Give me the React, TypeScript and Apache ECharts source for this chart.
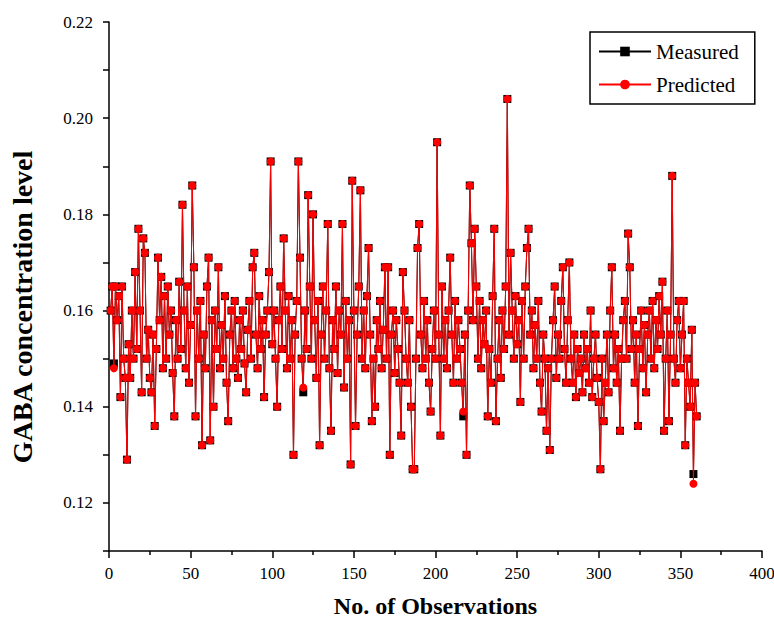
import React, { useEffect, useRef } from "react";
import * as echarts from "echarts";

const observations: number[] = Array.from({ length: 360 }, (_, i) => i + 1);

const predicted: number[] = [
  0.160, 0.165, 0.148, 0.165, 0.158, 0.163, 0.142, 0.165, 0.150, 0.146,
  0.129, 0.153, 0.146, 0.160, 0.150, 0.168, 0.152, 0.177, 0.160, 0.143,
  0.175, 0.172, 0.150, 0.156, 0.146, 0.143, 0.155, 0.136, 0.152, 0.171,
  0.158, 0.167, 0.148, 0.163, 0.150, 0.165, 0.155, 0.160, 0.147, 0.138,
  0.158, 0.150, 0.166, 0.152, 0.182, 0.160, 0.148, 0.165, 0.145, 0.157,
  0.186, 0.169, 0.138, 0.160, 0.150, 0.162, 0.132, 0.155, 0.148, 0.165,
  0.171, 0.133, 0.158, 0.140, 0.160, 0.152, 0.169, 0.148, 0.157, 0.150,
  0.163, 0.145, 0.137, 0.155, 0.160, 0.148, 0.162, 0.150, 0.146, 0.158,
  0.152, 0.160, 0.149, 0.143, 0.156, 0.162, 0.150, 0.169, 0.172, 0.155,
  0.148, 0.163, 0.152, 0.158, 0.142, 0.155, 0.160, 0.168, 0.191, 0.153,
  0.160, 0.150, 0.140, 0.158, 0.165, 0.152, 0.175, 0.160, 0.148, 0.163,
  0.150, 0.158, 0.130, 0.155, 0.162, 0.191, 0.171, 0.150, 0.144, 0.160,
  0.152, 0.184, 0.165, 0.150, 0.180, 0.158, 0.146, 0.162, 0.132, 0.155,
  0.165, 0.150, 0.160, 0.178, 0.148, 0.135, 0.158, 0.152, 0.165, 0.147,
  0.160, 0.155, 0.178, 0.144, 0.162, 0.150, 0.158, 0.128, 0.187, 0.160,
  0.136, 0.155, 0.165, 0.185, 0.150, 0.160, 0.148, 0.163, 0.173, 0.155,
  0.137, 0.150, 0.140, 0.158, 0.152, 0.162, 0.148, 0.156, 0.169, 0.150,
  0.169, 0.130, 0.155, 0.160, 0.147, 0.158, 0.152, 0.145, 0.134, 0.168,
  0.160, 0.150, 0.145, 0.158, 0.140, 0.127, 0.127, 0.150, 0.173, 0.178,
  0.155, 0.148, 0.162, 0.150, 0.158, 0.145, 0.139, 0.152, 0.160, 0.150,
  0.195, 0.155, 0.134, 0.165, 0.150, 0.158, 0.148, 0.160, 0.171, 0.155,
  0.145, 0.162, 0.150, 0.158, 0.152, 0.145, 0.139, 0.155, 0.130, 0.160,
  0.186, 0.174, 0.158, 0.177, 0.165, 0.150, 0.162, 0.148, 0.158, 0.153,
  0.160, 0.138, 0.152, 0.145, 0.163, 0.177, 0.137, 0.150, 0.158, 0.146,
  0.160, 0.152, 0.165, 0.204, 0.155, 0.172, 0.160, 0.150, 0.163, 0.153,
  0.158, 0.141, 0.162, 0.150, 0.165, 0.173, 0.177, 0.155, 0.160, 0.148,
  0.157, 0.150, 0.162, 0.145, 0.139, 0.155, 0.150, 0.135, 0.148, 0.131,
  0.150, 0.158, 0.165, 0.146, 0.155, 0.150, 0.162, 0.169, 0.152, 0.145,
  0.158, 0.170, 0.150, 0.145, 0.155, 0.142, 0.152, 0.147, 0.150, 0.143,
  0.155, 0.148, 0.152, 0.145, 0.160, 0.142, 0.150, 0.155, 0.146, 0.141,
  0.127, 0.150, 0.137, 0.145, 0.155, 0.143, 0.160, 0.169, 0.148, 0.155,
  0.145, 0.152, 0.135, 0.150, 0.158, 0.162, 0.150, 0.176, 0.169, 0.152,
  0.158, 0.145, 0.155, 0.136, 0.152, 0.160, 0.148, 0.157, 0.143, 0.155,
  0.160, 0.150, 0.162, 0.148, 0.158, 0.152, 0.163, 0.155, 0.166, 0.135,
  0.150, 0.160, 0.137, 0.155, 0.188, 0.150, 0.145, 0.158, 0.162, 0.148,
  0.155, 0.162, 0.132, 0.150, 0.145, 0.140, 0.156, 0.124, 0.145, 0.138,
];

const measured: number[] = [
  0.160, 0.165, 0.149, 0.165, 0.158, 0.163, 0.142, 0.165, 0.150, 0.146,
  0.129, 0.153, 0.146, 0.160, 0.150, 0.168, 0.152, 0.177, 0.160, 0.143,
  0.175, 0.172, 0.150, 0.156, 0.146, 0.143, 0.155, 0.136, 0.152, 0.171,
  0.158, 0.167, 0.148, 0.163, 0.150, 0.165, 0.155, 0.160, 0.147, 0.138,
  0.158, 0.150, 0.166, 0.152, 0.182, 0.160, 0.148, 0.165, 0.145, 0.157,
  0.186, 0.169, 0.138, 0.160, 0.150, 0.162, 0.132, 0.155, 0.148, 0.165,
  0.171, 0.133, 0.158, 0.140, 0.160, 0.152, 0.169, 0.148, 0.157, 0.150,
  0.163, 0.145, 0.137, 0.155, 0.160, 0.148, 0.162, 0.150, 0.146, 0.158,
  0.152, 0.160, 0.149, 0.143, 0.156, 0.162, 0.150, 0.169, 0.172, 0.155,
  0.148, 0.163, 0.152, 0.158, 0.142, 0.155, 0.160, 0.168, 0.191, 0.153,
  0.160, 0.150, 0.140, 0.158, 0.165, 0.152, 0.175, 0.160, 0.148, 0.163,
  0.150, 0.158, 0.130, 0.155, 0.162, 0.191, 0.171, 0.150, 0.143, 0.160,
  0.152, 0.184, 0.165, 0.150, 0.180, 0.158, 0.146, 0.162, 0.132, 0.155,
  0.165, 0.150, 0.160, 0.178, 0.148, 0.135, 0.158, 0.152, 0.165, 0.147,
  0.160, 0.155, 0.178, 0.144, 0.162, 0.150, 0.158, 0.128, 0.187, 0.160,
  0.136, 0.155, 0.165, 0.185, 0.150, 0.160, 0.148, 0.163, 0.173, 0.155,
  0.137, 0.150, 0.140, 0.158, 0.152, 0.162, 0.148, 0.156, 0.169, 0.150,
  0.169, 0.130, 0.155, 0.160, 0.147, 0.158, 0.152, 0.145, 0.134, 0.168,
  0.160, 0.150, 0.145, 0.158, 0.140, 0.127, 0.127, 0.150, 0.173, 0.178,
  0.155, 0.148, 0.162, 0.150, 0.158, 0.145, 0.139, 0.152, 0.160, 0.150,
  0.195, 0.155, 0.134, 0.165, 0.150, 0.158, 0.148, 0.160, 0.171, 0.155,
  0.145, 0.162, 0.150, 0.158, 0.152, 0.145, 0.138, 0.155, 0.130, 0.160,
  0.186, 0.174, 0.158, 0.177, 0.165, 0.150, 0.162, 0.148, 0.158, 0.153,
  0.160, 0.138, 0.152, 0.145, 0.163, 0.177, 0.137, 0.150, 0.158, 0.146,
  0.160, 0.152, 0.165, 0.204, 0.155, 0.172, 0.160, 0.150, 0.163, 0.153,
  0.158, 0.141, 0.162, 0.150, 0.165, 0.173, 0.177, 0.155, 0.160, 0.148,
  0.157, 0.150, 0.162, 0.145, 0.139, 0.155, 0.150, 0.135, 0.148, 0.131,
  0.150, 0.158, 0.165, 0.146, 0.155, 0.150, 0.162, 0.169, 0.152, 0.145,
  0.158, 0.170, 0.150, 0.145, 0.155, 0.142, 0.152, 0.147, 0.150, 0.143,
  0.155, 0.148, 0.152, 0.145, 0.160, 0.142, 0.150, 0.155, 0.146, 0.141,
  0.127, 0.150, 0.137, 0.145, 0.155, 0.143, 0.160, 0.169, 0.148, 0.155,
  0.145, 0.152, 0.135, 0.150, 0.158, 0.162, 0.150, 0.176, 0.169, 0.152,
  0.158, 0.145, 0.155, 0.136, 0.152, 0.160, 0.148, 0.157, 0.143, 0.155,
  0.160, 0.150, 0.162, 0.148, 0.158, 0.152, 0.163, 0.155, 0.166, 0.135,
  0.150, 0.160, 0.137, 0.155, 0.188, 0.150, 0.145, 0.158, 0.162, 0.148,
  0.155, 0.162, 0.132, 0.150, 0.145, 0.140, 0.156, 0.126, 0.145, 0.138,
];

const seriesNames: string[] = ["Measured", "Predicted"];
const xTitle = "No. of Observations";
const yTitle = "GABA concentration level";

const FONT = "'Liberation Serif', 'DejaVu Serif', serif";

export default function App() {
  const ref = useRef<HTMLDivElement>(null);

  useEffect(() => {
    if (!ref.current) return;
    const chart = echarts.init(ref.current, undefined, { renderer: "svg" });
    const measuredData = observations.map((x, i) => [x, measured[i]]);
    const predictedData = observations.map((x, i) => [x, predicted[i]]);

    chart.setOption({
      animation: false,
      backgroundColor: "#ffffff",
      grid: {
        left: 109,
        top: 22,
        width: 653,
        bottom: 80,
        containLabel: false,
        outerBoundsMode: "none",
      },
      legend: {
        orient: "vertical",
        left: 590,
        top: 32,
        padding: [9, 16, 9, 8],
        itemGap: 12,
        itemWidth: 52,
        itemHeight: 12,
        borderColor: "#000",
        borderWidth: 1.5,
        backgroundColor: "#fff",
        textStyle: { fontFamily: FONT, fontSize: 21, color: "#000" },
        data: seriesNames,
      },
      graphic: [
        {
          type: "text",
          x: 22,
          y: 307,
          rotation: Math.PI / 2,
          style: {
            text: yTitle,
            fontFamily: FONT,
            fontSize: 28,
            fontWeight: "bold",
            fill: "#000",
            align: "center",
            verticalAlign: "middle",
          },
        },
      ],
      xAxis: {
        type: "value",
        min: 0,
        max: 400,
        interval: 50,
        name: xTitle,
        nameLocation: "middle",
        nameGap: 43,
        nameTextStyle: { fontFamily: FONT, fontSize: 24, fontWeight: "bold", color: "#000" },
        axisLine: { show: true, onZero: false, lineStyle: { color: "#000", width: 1.5 } },
        axisTick: { show: true, length: 7, lineStyle: { color: "#000", width: 1.5 } },
        minorTick: { show: true, splitNumber: 2, length: 4, lineStyle: { color: "#000", width: 1.5 } },
        axisLabel: { fontFamily: FONT, fontSize: 17, color: "#000", margin: 14 },
        splitLine: { show: false },
      },
      yAxis: {
        type: "value",
        min: 0.11,
        max: 0.22,
        interval: 0.01,
        axisLine: { show: true, onZero: false, lineStyle: { color: "#000", width: 1.5 } },
        axisTick: { show: true, length: 6, lineStyle: { color: "#000", width: 1.5 } },
        axisLabel: {
          fontFamily: FONT,
          fontSize: 17,
          color: "#000",
          margin: 16,
          formatter: (v: number) => {
            const k = Math.round(v * 100);
            return k % 2 === 0 ? (k / 100).toFixed(2) : "";
          },
        },
        splitLine: { show: false },
      },
      series: [
        {
          name: seriesNames[0],
          type: "line",
          data: measuredData,
          symbol: "rect",
          symbolSize: 8,
          showAllSymbol: true,
          lineStyle: { color: "#000", width: 1 },
          itemStyle: { color: "#000" },
          z: 2,
        },
        {
          name: seriesNames[1],
          type: "line",
          data: predictedData,
          symbol: "circle",
          symbolSize: 8,
          showAllSymbol: true,
          lineStyle: { color: "#ff0000", width: 1 },
          itemStyle: { color: "#ff0000" },
          z: 3,
        },
      ],
    });

    return () => chart.dispose();
  }, []);

  return (
    <div
      ref={ref}
      style={{ position: "absolute", left: 0, top: 0, width: 774, height: 631 }}
    />
  );
}
